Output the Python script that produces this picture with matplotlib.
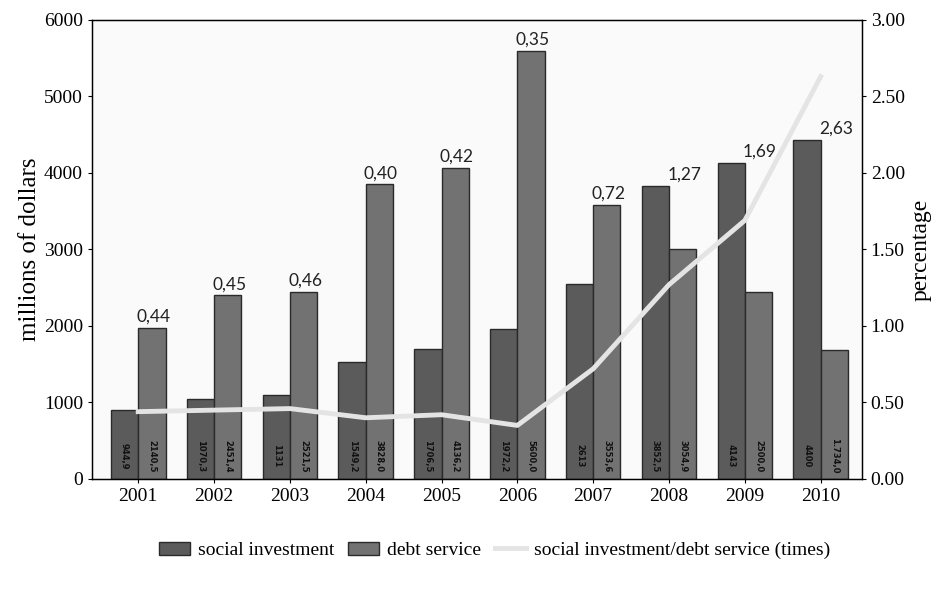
import numpy as np
import matplotlib.pyplot as plt

# Datos
anios = ["2001", "2002", "2003", "2004", "2005", "2006", "2007", "2008", "2009", "2010"]
inversion_social = [900, 1050, 1100, 1530, 1700, 1960, 2550, 3830, 4130, 4430]
servicio_deuda = [1980, 2400, 2450, 3850, 4070, 5600, 3580, 3010, 2450, 1680]
razon = [0.44, 0.45, 0.46, 0.40, 0.42, 0.35, 0.72, 1.27, 1.69, 2.63]
etiquetas_razon = ["0,44", "0,45", "0,46", "0,40", "0,42", "0,35", "0,72", "1,27", "1,69", "2,63"]
etiquetas_social = ["944,9", "1070,3", "1131", "1549,2", "1706,5", "1972,2", "2613", "3852,5", "4143", "4400"]
etiquetas_deuda = ["2140,5", "2451,4", "2521,5", "3828,0", "4136,2", "5600,0", "3553,6", "3054,9", "2500,0", "1.734,0"]

x = np.arange(len(anios))
ancho = 0.36
serif = "Liberation Serif"

fig = plt.figure(figsize=(9.51, 5.97), dpi=100)
ax = fig.add_axes([0.0967, 0.1977, 0.8093, 0.7688])
ax.set_facecolor("#fafafa")

ax.bar(x - ancho / 2, inversion_social, ancho, color="#5b5b5b", edgecolor="#2a2a2a",
       linewidth=1.0, label="social investment", zorder=2)
ax.bar(x + ancho / 2, servicio_deuda, ancho, color="#727272", edgecolor="#2a2a2a",
       linewidth=1.0, label="debt service", zorder=2)

# etiquetas dentro de las barras
for i in range(len(anios)):
    ax.text(x[i] - ancho / 2, 300, etiquetas_social[i], rotation=270, ha="center", va="center",
            fontsize=6, fontweight="bold", color="#111111", zorder=3)
    ax.text(x[i] + ancho / 2, 300, etiquetas_deuda[i], rotation=270, ha="center", va="center",
            fontsize=6, fontweight="bold", color="#111111", zorder=3)

ax.set_xlim(-0.61, 9.54)
ax.set_ylim(0, 6000)
ax.set_xticks(x)
ax.set_xticklabels(anios)
ax.set_yticks(np.arange(0, 6001, 1000))
ax.tick_params(axis="both", length=3, labelsize=14)
for t in ax.get_xticklabels() + ax.get_yticklabels():
    t.set_family(serif)
ax.set_ylabel("millions of dollars", family=serif, fontsize=18, labelpad=2)

ax2 = ax.twinx()
ax2.plot(x, razon, color="#e4e4e4", linewidth=3.5, label="social investment/debt service (times)", zorder=4)
ax2.set_ylim(0, 3)
ax2.set_yticks(np.arange(0, 3.01, 0.5))
ax2.set_yticklabels([f"{v:.2f}" for v in np.arange(0, 3.01, 0.5)])
ax2.tick_params(axis="y", length=3, labelsize=14)
for t in ax2.get_yticklabels():
    t.set_family(serif)
ax2.set_ylabel("percentage", family=serif, fontsize=17, labelpad=4)

# etiquetas de la razon, encima del grupo de barras
for i in range(len(anios)):
    tope = max(inversion_social[i], servicio_deuda[i])
    ax.text(x[i] + 0.2, tope + 40, etiquetas_razon[i], ha="center", va="bottom",
            fontsize=12.5, color="#222222", family="Lato", zorder=5)

for s in ax.spines.values():
    s.set_linewidth(1.0)

h1, l1 = ax.get_legend_handles_labels()
h2, l2 = ax2.get_legend_handles_labels()
fig.legend(h1 + h2, l1 + l2, loc="center", bbox_to_anchor=(0.52, 0.078), ncol=3, frameon=False,
           prop={"family": serif, "size": 14}, handlelength=1.6, columnspacing=0.7,
           handletextpad=0.4)

fig.savefig("out.png", dpi=100)
